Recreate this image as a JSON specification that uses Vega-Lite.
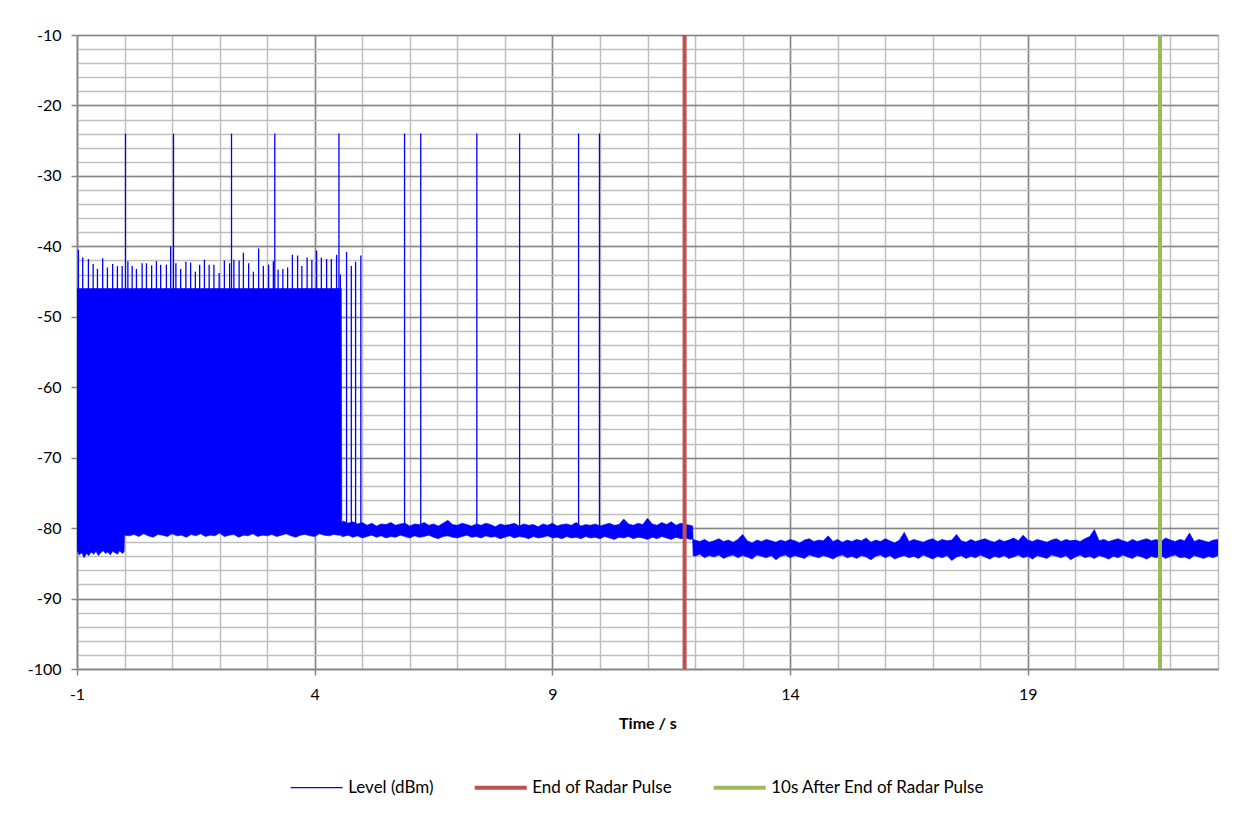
{
  "$schema": "https://vega.github.io/schema/vega-lite/v6.json",
  "width": 1141,
  "height": 634,
  "autosize": "none",
  "padding": {"left": 77, "top": 35, "right": 37, "bottom": 151},
  "background": "white",
  "config": {
    "view": {"stroke": null},
    "font": "Lato",
    "axis": {"labelFont": "Lato", "labelFontSize": 16, "labelColor": "#000000", "titleFont": "Lato", "titleFontSize": 16, "titleFontWeight": "bold", "titleColor": "#000000"}
  },
  "datasets": {
    "band": [
      {"t": -1.0, "lo": -83.2, "hi": -46}, {"t": -0.95, "lo": -83.8, "hi": -46}, {"t": -0.9, "lo": -83.5, "hi": -46}, {"t": -0.85, "lo": -84.2, "hi": -46},
      {"t": -0.8, "lo": -83.6, "hi": -46}, {"t": -0.75, "lo": -83.9, "hi": -46}, {"t": -0.7, "lo": -83.4, "hi": -46}, {"t": -0.65, "lo": -83.7, "hi": -46},
      {"t": -0.6, "lo": -83.3, "hi": -46}, {"t": -0.55, "lo": -83.9, "hi": -46}, {"t": -0.5, "lo": -83.5, "hi": -46}, {"t": -0.45, "lo": -83.2, "hi": -46},
      {"t": -0.4, "lo": -83.6, "hi": -46}, {"t": -0.35, "lo": -83.4, "hi": -46}, {"t": -0.3, "lo": -83.8, "hi": -46}, {"t": -0.25, "lo": -83.3, "hi": -46},
      {"t": -0.2, "lo": -83.5, "hi": -46}, {"t": -0.15, "lo": -83.7, "hi": -46}, {"t": -0.1, "lo": -83.2, "hi": -46}, {"t": -0.05, "lo": -83.6, "hi": -46},
      {"t": -0.01, "lo": -83.4, "hi": -46}, {"t": 0.0, "lo": -81.0, "hi": -46}, {"t": 0.1, "lo": -81.1, "hi": -46}, {"t": 0.2, "lo": -80.9, "hi": -46},
      {"t": 0.3, "lo": -81.2, "hi": -46}, {"t": 0.4, "lo": -80.8, "hi": -46}, {"t": 0.5, "lo": -81.1, "hi": -46}, {"t": 0.6, "lo": -81.3, "hi": -46},
      {"t": 0.7, "lo": -80.9, "hi": -46}, {"t": 0.8, "lo": -81.0, "hi": -46}, {"t": 0.9, "lo": -81.2, "hi": -46}, {"t": 1.0, "lo": -80.8, "hi": -46},
      {"t": 1.1, "lo": -81.1, "hi": -46}, {"t": 1.2, "lo": -81.0, "hi": -46}, {"t": 1.3, "lo": -81.3, "hi": -46}, {"t": 1.4, "lo": -80.9, "hi": -46},
      {"t": 1.5, "lo": -81.1, "hi": -46}, {"t": 1.6, "lo": -80.8, "hi": -46}, {"t": 1.7, "lo": -81.2, "hi": -46}, {"t": 1.8, "lo": -81.0, "hi": -46},
      {"t": 1.9, "lo": -81.1, "hi": -46}, {"t": 2.0, "lo": -80.7, "hi": -46}, {"t": 2.1, "lo": -81.2, "hi": -46}, {"t": 2.2, "lo": -81.0, "hi": -46},
      {"t": 2.3, "lo": -80.9, "hi": -46}, {"t": 2.4, "lo": -81.3, "hi": -46}, {"t": 2.5, "lo": -81.0, "hi": -46}, {"t": 2.6, "lo": -81.1, "hi": -46},
      {"t": 2.7, "lo": -80.8, "hi": -46}, {"t": 2.8, "lo": -81.2, "hi": -46}, {"t": 2.9, "lo": -81.0, "hi": -46}, {"t": 3.0, "lo": -81.1, "hi": -46},
      {"t": 3.1, "lo": -80.9, "hi": -46}, {"t": 3.2, "lo": -81.2, "hi": -46}, {"t": 3.3, "lo": -81.0, "hi": -46}, {"t": 3.4, "lo": -80.8, "hi": -46},
      {"t": 3.5, "lo": -81.1, "hi": -46}, {"t": 3.6, "lo": -81.3, "hi": -46}, {"t": 3.7, "lo": -81.0, "hi": -46}, {"t": 3.8, "lo": -80.9, "hi": -46},
      {"t": 3.9, "lo": -81.1, "hi": -46}, {"t": 4.0, "lo": -81.2, "hi": -46}, {"t": 4.1, "lo": -80.8, "hi": -46}, {"t": 4.2, "lo": -81.0, "hi": -46},
      {"t": 4.3, "lo": -81.1, "hi": -46}, {"t": 4.4, "lo": -80.9, "hi": -46}, {"t": 4.5, "lo": -81.0, "hi": -46}, {"t": 4.56, "lo": -81.0, "hi": -46},
      {"t": 4.57, "lo": -81.2, "hi": -79.2},
      {"t": 4.6, "lo": -81.2, "hi": -79.0}, {"t": 4.7, "lo": -81.0, "hi": -79.3}, {"t": 4.8, "lo": -81.3, "hi": -79.1}, {"t": 4.9, "lo": -81.1, "hi": -79.4},
      {"t": 5.0, "lo": -81.4, "hi": -79.2}, {"t": 5.1, "lo": -81.2, "hi": -79.6}, {"t": 5.2, "lo": -81.0, "hi": -79.3}, {"t": 5.3, "lo": -81.3, "hi": -79.7},
      {"t": 5.4, "lo": -81.1, "hi": -79.4}, {"t": 5.5, "lo": -81.4, "hi": -79.5}, {"t": 5.6, "lo": -81.2, "hi": -79.2}, {"t": 5.7, "lo": -81.3, "hi": -79.6},
      {"t": 5.8, "lo": -81.0, "hi": -79.4}, {"t": 5.9, "lo": -81.2, "hi": -79.3}, {"t": 6.0, "lo": -81.4, "hi": -79.7}, {"t": 6.1, "lo": -81.1, "hi": -79.4},
      {"t": 6.2, "lo": -81.3, "hi": -79.5}, {"t": 6.3, "lo": -81.2, "hi": -79.2}, {"t": 6.4, "lo": -81.0, "hi": -79.6}, {"t": 6.5, "lo": -81.3, "hi": -79.4},
      {"t": 6.6, "lo": -81.5, "hi": -79.7}, {"t": 6.7, "lo": -81.2, "hi": -79.3}, {"t": 6.8, "lo": -81.1, "hi": -78.9}, {"t": 6.9, "lo": -81.3, "hi": -79.5},
      {"t": 7.0, "lo": -81.4, "hi": -79.6}, {"t": 7.1, "lo": -81.2, "hi": -79.3}, {"t": 7.2, "lo": -81.0, "hi": -79.5}, {"t": 7.3, "lo": -81.3, "hi": -79.7},
      {"t": 7.4, "lo": -81.2, "hi": -79.4}, {"t": 7.5, "lo": -81.4, "hi": -79.6}, {"t": 7.6, "lo": -81.1, "hi": -79.3}, {"t": 7.7, "lo": -81.3, "hi": -79.5},
      {"t": 7.8, "lo": -81.2, "hi": -79.8}, {"t": 7.9, "lo": -81.5, "hi": -79.4}, {"t": 8.0, "lo": -81.3, "hi": -79.6}, {"t": 8.1, "lo": -81.1, "hi": -79.5},
      {"t": 8.2, "lo": -81.4, "hi": -79.3}, {"t": 8.3, "lo": -81.2, "hi": -79.7}, {"t": 8.4, "lo": -81.3, "hi": -79.4}, {"t": 8.5, "lo": -81.5, "hi": -79.6},
      {"t": 8.6, "lo": -81.2, "hi": -79.5}, {"t": 8.7, "lo": -81.4, "hi": -79.8}, {"t": 8.8, "lo": -81.3, "hi": -79.4}, {"t": 8.9, "lo": -81.1, "hi": -79.6},
      {"t": 9.0, "lo": -81.4, "hi": -79.3}, {"t": 9.1, "lo": -81.3, "hi": -79.7}, {"t": 9.2, "lo": -81.5, "hi": -79.5}, {"t": 9.3, "lo": -81.2, "hi": -79.4},
      {"t": 9.4, "lo": -81.4, "hi": -79.6}, {"t": 9.5, "lo": -81.3, "hi": -79.2}, {"t": 9.6, "lo": -81.5, "hi": -79.7}, {"t": 9.7, "lo": -81.2, "hi": -79.5},
      {"t": 9.8, "lo": -81.4, "hi": -79.6}, {"t": 9.9, "lo": -81.3, "hi": -79.4}, {"t": 10.0, "lo": -81.5, "hi": -79.7}, {"t": 10.1, "lo": -81.2, "hi": -79.5},
      {"t": 10.2, "lo": -81.4, "hi": -79.3}, {"t": 10.3, "lo": -81.6, "hi": -79.6}, {"t": 10.4, "lo": -81.3, "hi": -79.5}, {"t": 10.5, "lo": -81.4, "hi": -78.7},
      {"t": 10.6, "lo": -81.2, "hi": -79.4}, {"t": 10.7, "lo": -81.5, "hi": -79.6}, {"t": 10.8, "lo": -81.3, "hi": -79.3}, {"t": 10.9, "lo": -81.4, "hi": -79.5},
      {"t": 11.0, "lo": -81.6, "hi": -78.6}, {"t": 11.1, "lo": -81.3, "hi": -79.4}, {"t": 11.2, "lo": -81.5, "hi": -79.6}, {"t": 11.3, "lo": -81.2, "hi": -79.2},
      {"t": 11.4, "lo": -81.4, "hi": -79.5}, {"t": 11.5, "lo": -81.6, "hi": -79.1}, {"t": 11.6, "lo": -81.3, "hi": -79.6}, {"t": 11.7, "lo": -81.5, "hi": -79.3},
      {"t": 11.8, "lo": -81.4, "hi": -79.5}, {"t": 11.9, "lo": -81.6, "hi": -79.6}, {"t": 11.95, "lo": -81.5, "hi": -79.7},
      {"t": 11.96, "lo": -83.9, "hi": -81.6},
      {"t": 12.0, "lo": -84.0, "hi": -81.7}, {"t": 12.1, "lo": -83.7, "hi": -81.9}, {"t": 12.2, "lo": -84.2, "hi": -81.6}, {"t": 12.3, "lo": -83.9, "hi": -82.0},
      {"t": 12.4, "lo": -84.1, "hi": -81.8}, {"t": 12.5, "lo": -83.8, "hi": -81.5}, {"t": 12.6, "lo": -84.3, "hi": -81.9}, {"t": 12.7, "lo": -84.0, "hi": -81.7},
      {"t": 12.8, "lo": -83.8, "hi": -82.0}, {"t": 12.9, "lo": -84.2, "hi": -81.6}, {"t": 13.0, "lo": -83.9, "hi": -80.9}, {"t": 13.1, "lo": -84.1, "hi": -81.8},
      {"t": 13.2, "lo": -84.4, "hi": -82.1}, {"t": 13.3, "lo": -83.8, "hi": -81.7}, {"t": 13.4, "lo": -84.0, "hi": -81.9}, {"t": 13.5, "lo": -84.2, "hi": -81.6},
      {"t": 13.6, "lo": -83.9, "hi": -81.8}, {"t": 13.7, "lo": -84.5, "hi": -82.0}, {"t": 13.8, "lo": -84.0, "hi": -81.7}, {"t": 13.9, "lo": -83.8, "hi": -81.9},
      {"t": 14.0, "lo": -84.2, "hi": -81.6}, {"t": 14.1, "lo": -83.9, "hi": -81.8}, {"t": 14.2, "lo": -84.1, "hi": -82.1}, {"t": 14.3, "lo": -84.3, "hi": -81.7},
      {"t": 14.4, "lo": -83.8, "hi": -81.5}, {"t": 14.5, "lo": -84.0, "hi": -81.9}, {"t": 14.6, "lo": -84.2, "hi": -81.7}, {"t": 14.7, "lo": -83.9, "hi": -81.8},
      {"t": 14.8, "lo": -84.1, "hi": -81.1}, {"t": 14.9, "lo": -84.4, "hi": -81.9}, {"t": 15.0, "lo": -84.0, "hi": -81.6}, {"t": 15.1, "lo": -83.8, "hi": -82.0},
      {"t": 15.2, "lo": -84.2, "hi": -81.7}, {"t": 15.3, "lo": -84.0, "hi": -81.9}, {"t": 15.4, "lo": -84.3, "hi": -81.6}, {"t": 15.5, "lo": -83.9, "hi": -81.8},
      {"t": 15.6, "lo": -84.1, "hi": -81.4}, {"t": 15.7, "lo": -84.5, "hi": -82.0}, {"t": 15.8, "lo": -84.0, "hi": -81.7}, {"t": 15.9, "lo": -83.8, "hi": -81.9},
      {"t": 16.0, "lo": -84.2, "hi": -81.5}, {"t": 16.1, "lo": -83.9, "hi": -81.8}, {"t": 16.2, "lo": -84.4, "hi": -82.1}, {"t": 16.3, "lo": -84.1, "hi": -81.7},
      {"t": 16.4, "lo": -83.9, "hi": -80.6}, {"t": 16.5, "lo": -84.2, "hi": -81.9}, {"t": 16.6, "lo": -84.0, "hi": -81.6}, {"t": 16.7, "lo": -84.3, "hi": -81.8},
      {"t": 16.8, "lo": -83.8, "hi": -82.0}, {"t": 16.9, "lo": -84.1, "hi": -81.7}, {"t": 17.0, "lo": -84.4, "hi": -81.5}, {"t": 17.1, "lo": -84.0, "hi": -81.9},
      {"t": 17.2, "lo": -84.2, "hi": -81.6}, {"t": 17.3, "lo": -83.9, "hi": -81.8}, {"t": 17.4, "lo": -84.6, "hi": -81.7}, {"t": 17.5, "lo": -84.1, "hi": -80.9},
      {"t": 17.6, "lo": -83.9, "hi": -81.8}, {"t": 17.7, "lo": -84.3, "hi": -82.0}, {"t": 17.8, "lo": -84.0, "hi": -81.6}, {"t": 17.9, "lo": -84.2, "hi": -81.9},
      {"t": 18.0, "lo": -83.8, "hi": -81.7}, {"t": 18.1, "lo": -84.1, "hi": -81.5}, {"t": 18.2, "lo": -84.4, "hi": -81.8}, {"t": 18.3, "lo": -84.0, "hi": -82.0},
      {"t": 18.4, "lo": -84.2, "hi": -81.6}, {"t": 18.5, "lo": -83.9, "hi": -81.9}, {"t": 18.6, "lo": -84.3, "hi": -81.7}, {"t": 18.7, "lo": -84.1, "hi": -81.4},
      {"t": 18.8, "lo": -83.8, "hi": -81.8}, {"t": 18.9, "lo": -84.2, "hi": -81.0}, {"t": 19.0, "lo": -84.0, "hi": -81.7}, {"t": 19.1, "lo": -84.4, "hi": -81.9},
      {"t": 19.2, "lo": -83.9, "hi": -81.6}, {"t": 19.3, "lo": -84.1, "hi": -81.8}, {"t": 19.4, "lo": -84.3, "hi": -82.0}, {"t": 19.5, "lo": -83.8, "hi": -81.7},
      {"t": 19.6, "lo": -84.0, "hi": -81.5}, {"t": 19.7, "lo": -84.2, "hi": -81.9}, {"t": 19.8, "lo": -83.9, "hi": -81.6}, {"t": 19.9, "lo": -84.5, "hi": -81.8},
      {"t": 20.0, "lo": -84.1, "hi": -81.7}, {"t": 20.1, "lo": -83.8, "hi": -81.9}, {"t": 20.2, "lo": -84.2, "hi": -81.5}, {"t": 20.3, "lo": -84.0, "hi": -81.2},
      {"t": 20.4, "lo": -84.3, "hi": -80.2}, {"t": 20.5, "lo": -83.9, "hi": -81.8}, {"t": 20.6, "lo": -84.1, "hi": -81.6}, {"t": 20.7, "lo": -84.4, "hi": -81.9},
      {"t": 20.8, "lo": -84.0, "hi": -81.7}, {"t": 20.9, "lo": -84.2, "hi": -81.5}, {"t": 21.0, "lo": -83.8, "hi": -81.8}, {"t": 21.1, "lo": -84.1, "hi": -82.0},
      {"t": 21.2, "lo": -84.3, "hi": -81.6}, {"t": 21.3, "lo": -83.9, "hi": -81.9}, {"t": 21.4, "lo": -84.1, "hi": -81.7}, {"t": 21.5, "lo": -84.4, "hi": -81.5},
      {"t": 21.6, "lo": -84.0, "hi": -81.8}, {"t": 21.7, "lo": -84.2, "hi": -81.6}, {"t": 21.8, "lo": -83.9, "hi": -81.9}, {"t": 21.9, "lo": -84.3, "hi": -81.4},
      {"t": 22.0, "lo": -84.0, "hi": -81.7}, {"t": 22.1, "lo": -83.8, "hi": -81.9}, {"t": 22.2, "lo": -84.2, "hi": -81.6}, {"t": 22.3, "lo": -84.1, "hi": -81.8},
      {"t": 22.4, "lo": -84.4, "hi": -80.7}, {"t": 22.5, "lo": -83.9, "hi": -81.9}, {"t": 22.6, "lo": -84.1, "hi": -81.6}, {"t": 22.7, "lo": -84.3, "hi": -81.8},
      {"t": 22.8, "lo": -84.0, "hi": -82.0}, {"t": 22.9, "lo": -84.2, "hi": -81.7}, {"t": 23.0, "lo": -83.9, "hi": -81.6}
    ],
    "spikes": [
      {"series": "Level (dBm)", "t": -0.97, "top": -40.5, "base": -50}, {"series": "Level (dBm)", "t": -0.88, "top": -41.6, "base": -50},
      {"series": "Level (dBm)", "t": -0.76, "top": -41.8, "base": -50}, {"series": "Level (dBm)", "t": -0.66, "top": -42.5, "base": -50},
      {"series": "Level (dBm)", "t": -0.57, "top": -43.2, "base": -50}, {"series": "Level (dBm)", "t": -0.46, "top": -41.7, "base": -50},
      {"series": "Level (dBm)", "t": -0.36, "top": -43.0, "base": -50}, {"series": "Level (dBm)", "t": -0.25, "top": -42.5, "base": -50},
      {"series": "Level (dBm)", "t": -0.15, "top": -42.8, "base": -50}, {"series": "Level (dBm)", "t": -0.05, "top": -42.8, "base": -50},
      {"series": "Level (dBm)", "t": 0.02, "top": -24.0, "base": -60},
      {"series": "Level (dBm)", "t": 0.07, "top": -42.1, "base": -50}, {"series": "Level (dBm)", "t": 0.16, "top": -42.8, "base": -50},
      {"series": "Level (dBm)", "t": 0.25, "top": -43.2, "base": -50}, {"series": "Level (dBm)", "t": 0.37, "top": -42.4, "base": -50},
      {"series": "Level (dBm)", "t": 0.46, "top": -42.4, "base": -50}, {"series": "Level (dBm)", "t": 0.57, "top": -42.7, "base": -50},
      {"series": "Level (dBm)", "t": 0.67, "top": -42.1, "base": -50}, {"series": "Level (dBm)", "t": 0.76, "top": -42.6, "base": -50},
      {"series": "Level (dBm)", "t": 0.88, "top": -42.6, "base": -50}, {"series": "Level (dBm)", "t": 0.97, "top": -40.0, "base": -50},
      {"series": "Level (dBm)", "t": 1.03, "top": -24.0, "base": -60},
      {"series": "Level (dBm)", "t": 1.08, "top": -42.4, "base": -50}, {"series": "Level (dBm)", "t": 1.18, "top": -43.2, "base": -50},
      {"series": "Level (dBm)", "t": 1.29, "top": -42.2, "base": -50}, {"series": "Level (dBm)", "t": 1.39, "top": -42.3, "base": -50},
      {"series": "Level (dBm)", "t": 1.49, "top": -43.6, "base": -50}, {"series": "Level (dBm)", "t": 1.58, "top": -42.6, "base": -50},
      {"series": "Level (dBm)", "t": 1.68, "top": -41.9, "base": -50}, {"series": "Level (dBm)", "t": 1.78, "top": -42.6, "base": -50},
      {"series": "Level (dBm)", "t": 1.88, "top": -42.6, "base": -50}, {"series": "Level (dBm)", "t": 1.99, "top": -43.8, "base": -50},
      {"series": "Level (dBm)", "t": 2.10, "top": -42.0, "base": -50}, {"series": "Level (dBm)", "t": 2.21, "top": -42.4, "base": -50},
      {"series": "Level (dBm)", "t": 2.25, "top": -24.0, "base": -60},
      {"series": "Level (dBm)", "t": 2.30, "top": -41.9, "base": -50}, {"series": "Level (dBm)", "t": 2.41, "top": -42.0, "base": -50},
      {"series": "Level (dBm)", "t": 2.50, "top": -40.9, "base": -50}, {"series": "Level (dBm)", "t": 2.61, "top": -42.4, "base": -50},
      {"series": "Level (dBm)", "t": 2.71, "top": -43.6, "base": -50}, {"series": "Level (dBm)", "t": 2.82, "top": -40.3, "base": -50},
      {"series": "Level (dBm)", "t": 2.92, "top": -42.8, "base": -50}, {"series": "Level (dBm)", "t": 3.03, "top": -42.6, "base": -50},
      {"series": "Level (dBm)", "t": 3.13, "top": -42.1, "base": -50},
      {"series": "Level (dBm)", "t": 3.16, "top": -24.0, "base": -60},
      {"series": "Level (dBm)", "t": 3.23, "top": -43.3, "base": -50}, {"series": "Level (dBm)", "t": 3.33, "top": -43.2, "base": -50},
      {"series": "Level (dBm)", "t": 3.43, "top": -43.0, "base": -50}, {"series": "Level (dBm)", "t": 3.53, "top": -41.2, "base": -50},
      {"series": "Level (dBm)", "t": 3.64, "top": -41.3, "base": -50}, {"series": "Level (dBm)", "t": 3.73, "top": -42.8, "base": -50},
      {"series": "Level (dBm)", "t": 3.84, "top": -41.6, "base": -50}, {"series": "Level (dBm)", "t": 3.94, "top": -41.9, "base": -50},
      {"series": "Level (dBm)", "t": 4.04, "top": -40.6, "base": -50}, {"series": "Level (dBm)", "t": 4.14, "top": -41.6, "base": -50},
      {"series": "Level (dBm)", "t": 4.25, "top": -41.8, "base": -50}, {"series": "Level (dBm)", "t": 4.35, "top": -41.8, "base": -50},
      {"series": "Level (dBm)", "t": 4.46, "top": -41.2, "base": -50},
      {"series": "Level (dBm)", "t": 4.51, "top": -24.0, "base": -60},
      {"series": "Level (dBm)", "t": 4.54, "top": -44.0, "base": -50},
      {"series": "Level (dBm)", "t": 4.67, "top": -40.8, "base": -80}, {"series": "Level (dBm)", "t": 4.77, "top": -42.8, "base": -80},
      {"series": "Level (dBm)", "t": 4.86, "top": -42.2, "base": -80}, {"series": "Level (dBm)", "t": 4.97, "top": -41.3, "base": -80},
      {"series": "Level (dBm)", "t": 5.89, "top": -24.0, "base": -80}, {"series": "Level (dBm)", "t": 6.23, "top": -24.0, "base": -80},
      {"series": "Level (dBm)", "t": 7.41, "top": -24.0, "base": -80}, {"series": "Level (dBm)", "t": 8.31, "top": -24.0, "base": -80},
      {"series": "Level (dBm)", "t": 9.55, "top": -24.0, "base": -80}, {"series": "Level (dBm)", "t": 9.99, "top": -24.0, "base": -80}
    ],
    "markers": [
      {"series": "End of Radar Pulse", "t": 11.78},
      {"series": "10s After End of Radar Pulse", "t": 21.78}
    ]
  },
  "resolve": {"axis": {"x": "independent", "y": "independent"}},
  "layer": [
    {
      "data": {"name": "band"},
      "mark": {"type": "area", "color": "#0000ff", "stroke": "#0000ff", "strokeWidth": 0.6, "interpolate": "linear", "clip": true},
      "encoding": {
        "x": {"field": "t", "type": "quantitative", "scale": {"domain": [-1, 23], "nice": false, "zero": false},
          "axis": {"orient": "bottom", "values": [-1,0,1,2,3,4,5,6,7,8,9,10,11,12,13,14,15,16,17,18,19,20,21,22,23], "grid": true, "gridColor": "#bfbfbf", "gridWidth": 1.5, "domain": false, "ticks": false, "labels": false, "title": null}},
        "y": {"field": "lo", "type": "quantitative", "scale": {"domain": [-100, -10], "nice": false, "zero": false},
          "axis": {"orient": "left", "values": [-100,-98,-96,-94,-92,-90,-88,-86,-84,-82,-80,-78,-76,-74,-72,-70,-68,-66,-64,-62,-60,-58,-56,-54,-52,-50,-48,-46,-44,-42,-40,-38,-36,-34,-32,-30,-28,-26,-24,-22,-20,-18,-16,-14,-12,-10], "grid": true, "gridColor": "#bfbfbf", "gridWidth": 1.5, "domain": false, "ticks": false, "labels": false, "title": null}},
        "y2": {"field": "hi"}
      }
    },
    {
      "data": {"name": "spikes"},
      "mark": {"type": "rule", "clip": true, "strokeWidth": 1.3},
      "encoding": {
        "x": {"field": "t", "type": "quantitative",
          "axis": {"orient": "bottom", "values": [-1, 4, 9, 14, 19], "grid": true, "gridColor": "#868686", "gridWidth": 1.5, "domain": true, "domainColor": "#868686", "domainWidth": 1.5, "ticks": true, "tickColor": "#868686", "tickWidth": 1.5, "tickSize": 6, "labelPadding": 11, "labelFlush": false, "labelOverlap": false, "labelExpr": "toString(datum.value)", "title": "Time / s", "titlePadding": 13}},
        "y": {"field": "top", "type": "quantitative",
          "axis": {"orient": "left", "values": [-100, -90, -80, -70, -60, -50, -40, -30, -20, -10], "grid": true, "gridColor": "#868686", "gridWidth": 1.5, "domain": true, "domainColor": "#868686", "domainWidth": 1.5, "ticks": true, "tickColor": "#868686", "tickWidth": 1.5, "tickSize": 6, "labelPadding": 10, "labelFlush": false, "labelOverlap": false, "labelExpr": "toString(datum.value)", "title": null}},
        "y2": {"field": "base"},
        "color": {"field": "series", "type": "nominal",
          "scale": {"domain": ["Level (dBm)", "End of Radar Pulse", "10s After End of Radar Pulse"], "range": ["#0000ff", "#c0504d", "#9bbb59"]},
          "legend": {"title": null, "orient": "none", "legendX": 211.7, "legendY": 724.7, "direction": "horizontal", "symbolType": "stroke", "labelFont": "Lato", "labelFontSize": 17, "labelColor": "#000000", "columnPadding": 33, "labelOffset": 3.5, "padding": 0, "labelLimit": 400,
            "encode": {"symbols": {"update": {"size": {"value": 2704}, "strokeWidth": {"signal": "(datum.value === 'Level (dBm)' ? 1.3 : 4)"}}}}}}
      }
    },
    {
      "data": {"name": "markers"},
      "mark": {"type": "rule", "strokeWidth": 4},
      "encoding": {
        "x": {"field": "t", "type": "quantitative", "axis": null},
        "color": {"field": "series", "type": "nominal"}
      }
    }
  ]
}
